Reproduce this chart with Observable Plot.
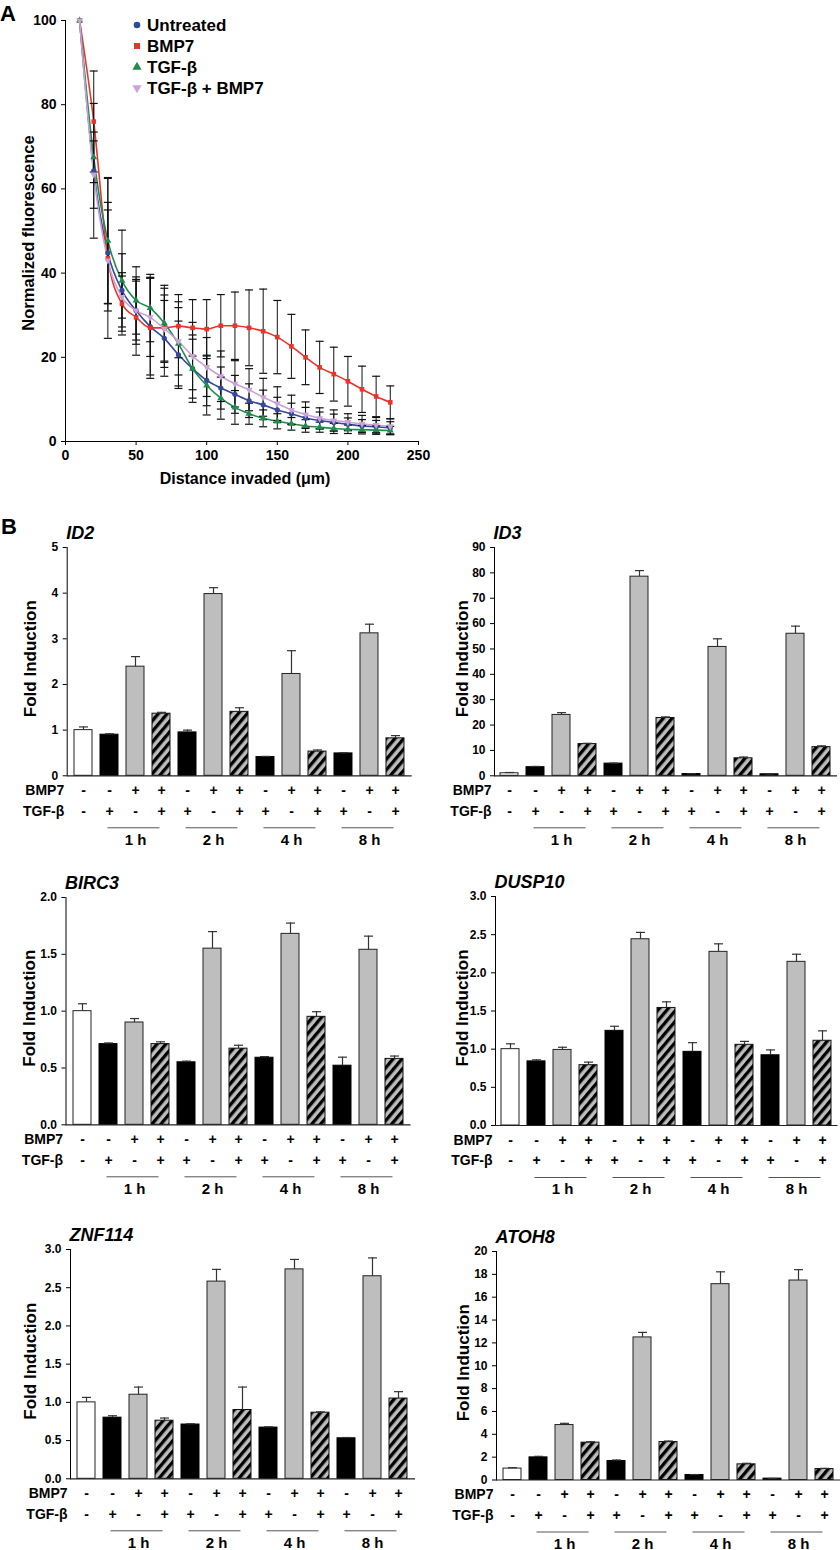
<!DOCTYPE html>
<html><head><meta charset="utf-8">
<script src="https://cdn.jsdelivr.net/npm/d3@7"></script>
<script src="https://cdn.jsdelivr.net/npm/@observablehq/plot@0.6"></script>
<style>
body{margin:0;background:#fff;}
#page{position:relative;width:840px;height:1550px;overflow:hidden;font-family:"Liberation Sans",Arial,sans-serif;}
.chart{position:absolute;}
.chart svg{display:block;overflow:visible;}
#overlay{position:absolute;left:0;top:0;pointer-events:none;}
</style></head><body>
<svg width="0" height="0" style="position:absolute">
  <defs>
    <pattern id="hatch" patternUnits="userSpaceOnUse" width="6.8" height="6.8" patternTransform="rotate(40)">
      <rect width="6.8" height="6.8" fill="#bdbdbd"></rect>
      <rect width="3.3" height="6.8" fill="#000"></rect>
    </pattern>
  </defs>
</svg>
<div id="page"></div>
<script>
// ---------- Panel A data ----------
const distance = [10,20,30,40,50,60,70,80,90,100,110,120,130,140,150,160,170,180,190,200,210,220,230];
const seriesNames = ["Untreated","BMP7","TGF-β","TGF-β + BMP7"];
const seriesColors = ["#34489c","#e8352b","#1f8b4c","#c9a3d6"];
const untreatedMean = [100,64.3,44.8,35.9,31.1,27.3,24.5,20.6,17.3,14.5,12.7,11.2,9.7,8.7,7.5,6.6,5.6,5.0,4.5,4.1,3.7,3.5,3.2];
const untreatedErr  = [0,16,12,8.7,8,11.5,9,8,7,6,5,4.5,4,3.5,3,2.5,2.5,2,2,1.5,1.5,1.5,1.5];
const bmp7Mean = [100,76,43.5,32.7,29.5,27,27,27.4,27,26.7,27.5,27.5,27,26.2,24.8,22.6,20,17.6,16,14.3,12.4,10.7,9.3];
const bmp7Err  = [0,12,19,7.4,9,12,9.4,7.5,6.7,7,7.4,8,9,10,8.7,7.6,6.5,6.2,6.4,5.9,5.5,4.8,3.9];
const tgfMean = [100,67.5,47.7,38.2,33.5,31.7,28.1,23.2,17.3,13.3,10.3,8.1,6.6,5.5,4.8,4.2,3.7,3.4,3.1,2.9,2.8,2.7,2.6];
const tgfErr  = [0,6,15,12,8,8,9,10,8,7,5,4,2.5,2,1.8,1.5,1.5,1.2,1.2,1,1,1,1];
const comboMean = [100,63.4,43,34.3,31.1,29.5,26.8,23.8,20.3,17.7,15.5,13.7,12.3,10.5,9.0,7.5,6.4,5.5,5.0,4.6,4.2,3.9,3.6];
const comboErr  = [0,8,12,5,7,9.3,8,8,8,7,6,5.5,5,4.5,4,3.5,3,2.5,2.5,2,2,1.8,1.8];
const seriesMeans = [untreatedMean,bmp7Mean,tgfMean,comboMean];
const seriesErrs = [untreatedErr,bmp7Err,tgfErr,comboErr];
const xTicksA = [0,50,100,150,200,250];
const yTicksA = [0,20,40,60,80,100];

// ---------- Panel B data ----------
const conditions = ["c1","c2","c3","c4","c5","c6","c7","c8","c9","c10","c11","c12","c13"];
const bmp7Signs = ["-","-","+","+","-","+","+","-","+","+","-","+","+"];
const tgfSigns  = ["-","+","-","+","+","-","+","+","-","+","+","-","+"];
const barKinds  = ["white","black","gray","hatch","black","gray","hatch","black","gray","hatch","black","gray","hatch"];
const timeLabels = ["1 h","2 h","4 h","8 h"];

const id2Values = [1.0,0.90,2.39,1.36,0.95,3.98,1.40,0.41,2.23,0.53,0.49,3.12,0.82];
const id2Errors = [0.07,0.02,0.22,0.03,0.05,0.14,0.09,0.015,0.51,0.035,0.015,0.20,0.06];
const id3Values = [1.0,3.4,24.0,12.5,4.8,78.5,22.8,0.7,50.8,6.9,0.6,56.0,11.3];
const id3Errors = [0.3,0.3,0.9,0.3,0.2,2.4,0.4,0.1,3.2,0.5,0.1,3.0,0.5];
const birc3Values = [1.0,0.71,0.90,0.71,0.55,1.55,0.67,0.59,1.68,0.95,0.52,1.54,0.58];
const birc3Errors = [0.065,0.01,0.035,0.02,0.01,0.15,0.03,0.01,0.095,0.045,0.075,0.12,0.025];
const dusp10Values = [1.0,0.84,0.99,0.79,1.24,2.44,1.54,0.965,2.275,1.057,0.92,2.144,1.11];
const dusp10Errors = [0.07,0.02,0.035,0.04,0.06,0.09,0.08,0.12,0.105,0.045,0.07,0.10,0.13];
const znf114Values = [1.0,0.80,1.10,0.76,0.71,2.58,0.90,0.67,2.74,0.865,0.53,2.65,1.05];
const znf114Errors = [0.065,0.025,0.10,0.035,0.01,0.16,0.30,0.01,0.13,0.01,0.01,0.24,0.09];
const atoh8Values = [1.0,1.98,4.81,3.27,1.66,12.48,3.32,0.44,17.14,1.37,0.12,17.46,0.96];
const atoh8Errors = [0.08,0.09,0.15,0.08,0.09,0.44,0.09,0.03,1.08,0.09,0.02,0.95,0.06];

const FONT = '"Liberation Sans", Arial, sans-serif';
const page = document.getElementById("page");
function place(svg, left, top, w) {
  const div = document.createElement("div");
  div.className = "chart";
  div.style.left = left + "px"; div.style.top = top + "px"; div.style.width = w + "px";
  div.appendChild(svg); page.appendChild(div);
}
const capSymbol = (hw) => ({draw(ctx){ ctx.moveTo(-hw,0); ctx.lineTo(hw,0); }});

// ---------- Panel A ----------
{
  const rows = [];
  seriesNames.forEach((s, k) => distance.forEach((x, i) => rows.push({series: s, x, y: seriesMeans[k][i], e: seriesErrs[k][i]})));
  const withErr = rows.filter(d => d.e > 0);
  const symbols = ["circle","square","triangle","triangle"];
  const rotations = [0,0,0,180];
  const W = 430, H = 500;
  const chart = Plot.plot({
    width: W, height: H, marginLeft: 65, marginRight: 12, marginTop: 20, marginBottom: 59,
    style: {fontFamily: FONT, fontSize: "14px", fontWeight: "bold", color: "#000", background: "transparent", overflow: "visible"},
    x: {domain: [0,250], ticks: xTicksA, line: true, tickSize: 4, label: null},
    y: {domain: [0,100], ticks: yTicksA, line: true, tickSize: 4, label: null},
    color: {domain: seriesNames, range: seriesColors},
    marks: [
      Plot.line(rows, {x: "x", y: "y", z: "series", stroke: "series", strokeWidth: 1.6, curve: "monotone-x"}),
      Plot.ruleX(withErr, {x: "x", y1: d => d.y - d.e, y2: d => d.y + d.e, stroke: "#111", strokeWidth: 1}),
      Plot.dot(withErr, {x: "x", y: d => d.y + d.e, symbol: capSymbol(4), stroke: "#111", strokeWidth: 1.2, fill: "none"}),
      Plot.dot(withErr, {x: "x", y: d => d.y - d.e, symbol: capSymbol(4), stroke: "#111", strokeWidth: 1.2, fill: "none"}),
      ...seriesNames.map((s, k) => Plot.dot(rows.filter(d => d.series === s), {x: "x", y: "y", fill: seriesColors[k], symbol: symbols[k], rotate: rotations[k], r: 2.6})),
      Plot.text(["Distance invaded (μm)"], {frameAnchor: "bottom", textAnchor: "middle", lineAnchor: "middle", dx: 3, dy: 37, fontSize: 16, fontWeight: "bold"}),
      Plot.text(["Normalized fluorescence"], {frameAnchor: "left", textAnchor: "middle", rotate: -90, lineAnchor: "bottom", dx: -32, dy: 2, fontSize: 16.5, fontWeight: "bold"})
    ]
  });
  place(chart, 0, 0, W);
}

// ---------- Panel B ----------
const kindStyles = {
  white: {fill: "#ffffff", stroke: "#222"},
  black: {fill: "#000000", stroke: "#000"},
  gray:  {fill: "#bebebe", stroke: "#222"},
  hatch: {fill: "url(#hatch)", stroke: "#111"}
};
const timeGroups = timeLabels.map((label, g) => ({label, first: conditions[1 + 3*g], mid: conditions[2 + 3*g], last: conditions[3 + 3*g]}));

function barChart({gene, values, errors, yMax, yStep, decimals, colLeft, axisX, barStart, barEnd, topY, zeroY, ylabelX}) {
  const mt = 28, mb = 74, mr = 3;
  const ml = axisX - colLeft;
  const step = (barEnd - barStart) / 12.7;
  const pO = (barStart - axisX) / step;
  const inner = (barEnd - barStart) + 2 * (barStart - axisX);
  const W = ml + inner + mr;
  const H = mt + (zeroY - topY) + mb;
  const data = values.map((v, i) => ({cond: conditions[i], v, e: errors[i], kind: barKinds[i], bmp: bmp7Signs[i], tgf: tgfSigns[i]}));
  const ticks = d3.range(0, yMax + yStep / 2, yStep);
  const rowText = {fontSize: 14, fontWeight: "bold", lineAnchor: "middle"};
  const chart = Plot.plot({
    width: W, height: H, marginLeft: ml, marginRight: mr, marginTop: mt, marginBottom: mb,
    style: {fontFamily: FONT, fontSize: "12px", fontWeight: "bold", color: "#000", background: "transparent", overflow: "visible"},
    x: {type: "band", domain: conditions, paddingInner: 0.3, paddingOuter: pO, axis: null},
    y: {domain: [0, yMax], ticks, tickFormat: d => d.toFixed(decimals), line: true, tickSize: 4, label: null},
    marks: [
      ...Object.entries(kindStyles).map(([k, st]) => Plot.barY(data.filter(d => d.kind === k), {x: "cond", y: "v", fill: st.fill, stroke: st.stroke, strokeWidth: 1})),
      Plot.ruleY([0], {stroke: "#222", strokeWidth: 1.2}),
      Plot.ruleX(data, {x: "cond", y1: "v", y2: d => d.v + d.e, stroke: "#333", strokeWidth: 1.2}),
      Plot.dot(data, {x: "cond", y: d => d.v + d.e, symbol: capSymbol(4.5), stroke: "#333", strokeWidth: 1.2, fill: "none"}),
      Plot.text(data, {x: "cond", text: "bmp", frameAnchor: "bottom", textAnchor: "middle", dy: 15, ...rowText}),
      Plot.text(data, {x: "cond", text: "tgf", frameAnchor: "bottom", textAnchor: "middle", dy: 35.5, ...rowText}),
      Plot.text(["BMP7"], {frameAnchor: "bottom-left", textAnchor: "end", dx: -3, dy: 15, ...rowText}),
      Plot.text(["TGF-β"], {frameAnchor: "bottom-left", textAnchor: "end", dx: -3, dy: 35.5, ...rowText}),
      Plot.link(timeGroups, {x1: "first", x2: "last", y1: 0, y2: 0, dx: -2, dy: 52, stroke: "#555", strokeWidth: 1}),
      Plot.text(timeGroups, {x: "mid", text: "label", frameAnchor: "bottom", textAnchor: "middle", lineAnchor: "middle", dy: 64, fontSize: 15, fontWeight: "bold"}),
      Plot.text([gene], {frameAnchor: "top-left", textAnchor: "start", lineAnchor: "middle", dx: -1, dy: -14, fontSize: 18, fontWeight: "bold", fontStyle: "italic"}),
      Plot.text(["Fold Induction"], {frameAnchor: "left", textAnchor: "middle", rotate: -90, lineAnchor: "bottom", dx: ylabelX - axisX, dy: -3, fontSize: 17, fontWeight: "bold"})
    ]
  });
  place(chart, colLeft, topY - mt, W);
}

barChart({gene: "ID2", values: id2Values, errors: id2Errors, yMax: 5, yStep: 1, decimals: 0, colLeft: 0, axisX: 66.7, barStart: 71.7, barEnd: 406.7, topY: 546.7, zeroY: 775, ylabelX: 35});
barChart({gene: "ID3", values: id3Values, errors: id3Errors, yMax: 90, yStep: 10, decimals: 0, colLeft: 420, axisX: 494, barStart: 497.7, barEnd: 833.3, topY: 546.7, zeroY: 775, ylabelX: 467});
barChart({gene: "BIRC3", values: birc3Values, errors: birc3Errors, yMax: 2, yStep: 0.5, decimals: 1, colLeft: 0, axisX: 65.5, barStart: 70.5, barEnd: 405.5, topY: 896.7, zeroY: 1124, ylabelX: 34});
barChart({gene: "DUSP10", values: dusp10Values, errors: dusp10Errors, yMax: 3, yStep: 0.5, decimals: 1, colLeft: 420, axisX: 495, barStart: 498.5, barEnd: 834, topY: 896, zeroY: 1125, ylabelX: 467});
barChart({gene: "ZNF114", values: znf114Values, errors: znf114Errors, yMax: 3, yStep: 0.5, decimals: 1, colLeft: 0, axisX: 70, barStart: 75, barEnd: 410, topY: 1249, zeroY: 1478.3, ylabelX: 35});
barChart({gene: "ATOH8", values: atoh8Values, errors: atoh8Errors, yMax: 20, yStep: 2, decimals: 0, colLeft: 420, axisX: 496, barStart: 500, barEnd: 836.5, topY: 1250.5, zeroY: 1479, ylabelX: 468});

// ---------- Overlay: panel letters and legend ----------
{
  const svg = d3.select(page).append("svg").attr("id", "overlay").attr("width", 840).attr("height", 1550)
    .style("font-family", FONT).style("font-weight", "bold");
  svg.append("text").attr("x", 0).attr("y", 20.5).attr("font-size", 22).text("A");
  svg.append("text").attr("x", 1).attr("y", 533.5).attr("font-size", 22).text("B");
  const symTypes = [d3.symbolCircle, d3.symbolSquare, d3.symbolTriangle, d3.symbolTriangle];
  const symRot = [0, 0, 0, 180];
  seriesNames.forEach((s, k) => {
    const y = 25 + 21 * k;
    svg.append("path").attr("d", d3.symbol(symTypes[k], k === 0 ? 34 : 36)())
      .attr("transform", `translate(137,${y}) rotate(${symRot[k]})`).attr("fill", seriesColors[k]);
    svg.append("text").attr("x", 147).attr("y", y).attr("dy", "0.35em").attr("font-size", 17).text(s);
  });
}
</script>
</body></html>
